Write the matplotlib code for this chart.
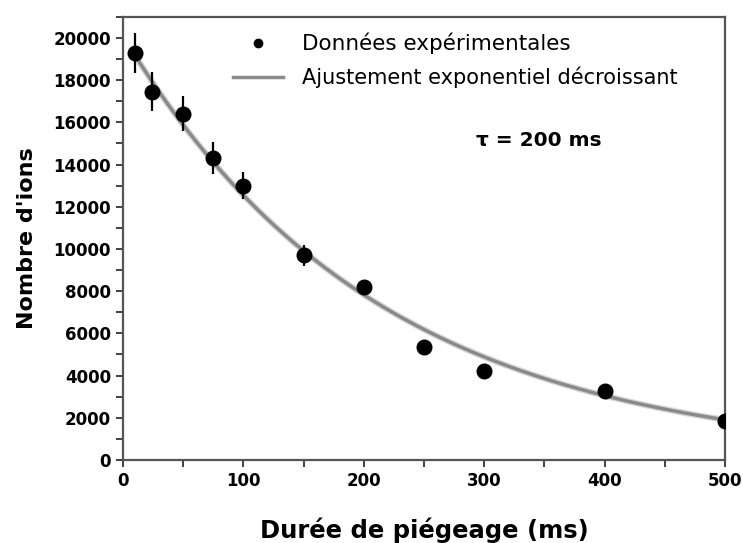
import matplotlib
matplotlib.use("Agg")
import matplotlib.pyplot as plt
from matplotlib.ticker import MultipleLocator
import numpy as np

plt.rcParams.update({"font.family": "DejaVu Sans", "font.weight": "bold"})

# trapping time (ms), ion counts, error bars
t_ms = [10, 24, 50, 75, 100, 150, 200, 250, 300, 400, 500]
n_ions = [19300, 17450, 16400, 14300, 13000, 9700, 8180, 5350, 4200, 3280, 1840]
n_err = [950, 920, 830, 750, 630, 500, 0, 0, 0, 0, 0]

# exponential fit parameters
fit_A = 20100
fit_tau = 212
fit_t = np.linspace(8, 500, 300)
fit_n = fit_A * np.exp(-fit_t / fit_tau)

fig = plt.figure(figsize=(7.43, 5.43), dpi=100)
ax = fig.add_axes([0.1655, 0.153, 0.8103, 0.816])

ax.plot(fit_t, fit_n, color="#d8d8d8", lw=4.5, zorder=2)
ax.plot(fit_t, fit_n, color="#8a8a8a", lw=2.5, zorder=3)
ax.errorbar(t_ms, n_ions, yerr=n_err, fmt="o", color="black", ms=10.5,
            elinewidth=1.6, capsize=0, zorder=4)

ax.set_xlim(0, 500)
ax.set_ylim(0, 21000)
ax.xaxis.set_major_locator(MultipleLocator(100))
ax.xaxis.set_minor_locator(MultipleLocator(50))
ax.yaxis.set_major_locator(MultipleLocator(2000))
ax.yaxis.set_minor_locator(MultipleLocator(1000))
ax.tick_params(which="both", direction="out", length=5, width=1.3, colors="#333333",
               labelcolor="black", labelsize=12, top=False, right=False)
for s in ax.spines.values():
    s.set_color("#555555")
    s.set_linewidth(1.6)

ax.set_xlabel("Durée de piégeage (ms)", fontsize=17.5, fontweight="bold", labelpad=20)
ax.set_ylabel("Nombre d'ions", fontsize=16, fontweight="bold", labelpad=12)

# legend drawn by hand in data coords
ax.plot([112], [19760], "o", color="black", ms=6)
ax.text(149, 19760, "Données expérimentales", fontsize=15.5, fontweight="normal", va="center")
ax.plot([91, 133], [18160, 18160], color="#8a8a8a", lw=2.5)
ax.text(149, 18160, "Ajustement exponentiel décroissant", fontsize=15, fontweight="normal",
        va="center")
ax.text(345, 15130, "τ = 200 ms", fontsize=14.5, fontweight="bold", ha="center", va="center")

fig.savefig("out.png", dpi=100)
